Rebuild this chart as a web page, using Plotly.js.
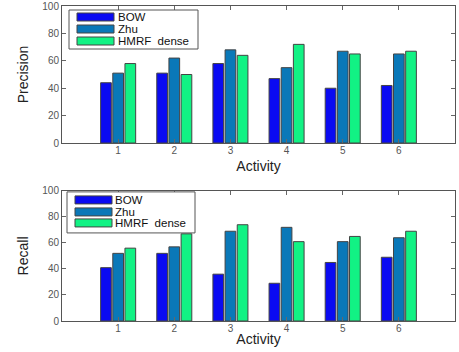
<!DOCTYPE html>
<html>
<head>
<meta charset="utf-8">
<script src="https://cdn.plot.ly/plotly-3.0.1.min.js"></script>
<style>html,body{margin:0;padding:0;background:#fff;}#chart{width:459px;height:352px;}</style>
</head>
<body>
<div id="chart"></div>
<script>
const activities = [1, 2, 3, 4, 5, 6];
const seriesNames = ["BOW", "Zhu", "HMRF  dense"];
const seriesColors = ["#0a0af2", "#0a78b8", "#12f284"];
const precisionBOW = [44, 51, 58, 47, 40, 42];
const precisionZhu = [51, 62, 68, 55, 67, 65];
const precisionHMRF = [58, 50, 64, 72, 65, 67];
const recallBOW = [41, 52, 36, 29, 45, 49];
const recallZhu = [52, 57, 69, 72, 61, 64];
const recallHMRF = [56, 67, 74, 61, 65, 69];
const yTicks = [0, 20, 40, 60, 80, 100];

const precision = [precisionBOW, precisionZhu, precisionHMRF];
const recall = [recallBOW, recallZhu, recallHMRF];

const FONT = "Liberation Sans, Arial, sans-serif";
const traces = [];
function addBars(sets, xa, ya) {
  sets.forEach((vals, i) => {
    traces.push({
      type: "bar", x: activities, y: vals, name: seriesNames[i],
      xaxis: xa, yaxis: ya, showlegend: false, hoverinfo: "skip",
      marker: {color: seriesColors[i], line: {color: "#444", width: 1}}
    });
  });
}
addBars(precision, "x", "y");
addBars(recall, "x2", "y2");

function axisX(anchor, standoff) {
  return {
    anchor: anchor, range: [0, 7], tickvals: activities, ticks: "inside", ticklen: 4,
    tickcolor: "#666", showline: true, linecolor: "#555", linewidth: 1, mirror: "ticks",
    showgrid: false, zeroline: false, tickfont: {family: FONT, size: 10, color: "#555"},
    ticklabelstandoff: -2,
    title: {text: "Activity", font: {family: FONT, size: 14, color: "#222"}, standoff: standoff}
  };
}
function axisY(anchor, dom, label) {
  return {
    anchor: anchor, domain: dom, range: [0, 100], tickvals: yTicks, ticks: "inside", ticklen: 4,
    tickcolor: "#666", showline: true, linecolor: "#555", linewidth: 1, mirror: "ticks",
    showgrid: false, zeroline: false, tickfont: {family: FONT, size: 10, color: "#555"},
    title: {text: label, font: {family: FONT, size: 14, color: "#222"}, standoff: 10}
  };
}

// custom legend (pixel boxes inside each axes)
const shapes = [], annotations = [];
function legend(xa, ya, axPx, box, swX, rows, textX) {
  const fx = p => (p - axPx.l) / (axPx.r - axPx.l);
  const fy = p => 1 - (p - axPx.t) / (axPx.b - axPx.t);
  const xr = xa + " domain", yr = ya + " domain";
  shapes.push({type: "rect", xref: xr, yref: yr, x0: fx(box[0]), x1: fx(box[1]), y0: fy(box[3]), y1: fy(box[2]),
    fillcolor: "#fff", line: {color: "#555", width: 1}, layer: "above"});
  seriesNames.forEach((n, i) => {
    shapes.push({type: "rect", xref: xr, yref: yr, x0: fx(swX[0]), x1: fx(swX[1]),
      y0: fy(rows[i] + 4), y1: fy(rows[i] - 4), fillcolor: seriesColors[i],
      line: {color: "#444", width: 1}, layer: "above"});
    annotations.push({xref: xr, yref: yr, x: fx(textX), y: fy(rows[i]), text: n, showarrow: false,
      xanchor: "left", yanchor: "middle", borderpad: 0,
      font: {family: FONT, size: 11.5, color: "#111"}});
  });
}
legend("x", "y", {l: 62, r: 455, t: 6, b: 143}, [69, 198, 10, 49], [77, 114], [17, 29, 41], 117);
legend("x2", "y2", {l: 62, r: 455, t: 191, b: 321}, [67, 195, 192, 233], [75, 112], [200, 212, 223], 114);

const layout = {
  width: 459, height: 352,
  margin: {l: 62, r: 4, t: 6, b: 31},
  paper_bgcolor: "#fff", plot_bgcolor: "#fff",
  bargap: 0.35, bargroupgap: 0.12, barmode: "group",
  xaxis: axisX("y", 6), yaxis: axisY("x", [0.565, 1], "Precision"),
  xaxis2: axisX("y2", 1), yaxis2: axisY("x2", [0, 0.413], "Recall"),
  shapes: shapes, annotations: annotations, showlegend: false
};
Plotly.newPlot("chart", traces, layout, {displayModeBar: false, staticPlot: true});
</script>
</body>
</html>
